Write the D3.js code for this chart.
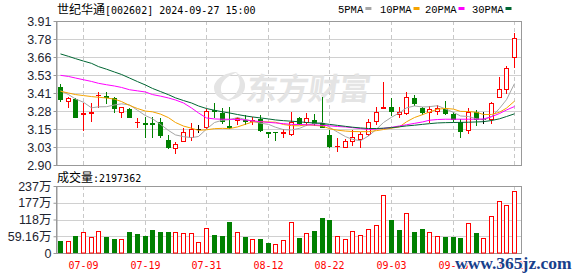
<!DOCTYPE html>
<html>
<head>
<meta charset="utf-8">
<script src="https://cdn.jsdelivr.net/npm/d3@7"></script>
<style>
  body { margin: 0; background: #fff; }
  svg { display: block; }
</style>
</head>
<body>
<div id="chart"></div>
<script>
// trading days shown (2024)
var dates = ["07-04","07-05","07-08","07-09","07-10","07-11","07-12","07-15","07-16","07-17",
  "07-18","07-19","07-22","07-23","07-24","07-25","07-26","07-29","07-30","07-31",
  "08-01","08-02","08-05","08-06","08-07","08-08","08-09","08-12","08-13","08-14",
  "08-15","08-16","08-19","08-20","08-21","08-22","08-23","08-26","08-27","08-28",
  "08-29","08-30","09-02","09-03","09-04","09-05","09-06","09-09","09-10","09-11",
  "09-12","09-13","09-18","09-19","09-20","09-23","09-24","09-25","09-26","09-27"];

var open = [3.449,3.351,3.361,3.260,3.262,3.388,3.381,3.368,3.274,3.291,
  3.199,3.192,3.192,3.204,3.075,3.021,3.070,3.099,3.152,3.164,
  3.288,3.263,3.172,3.215,3.218,3.210,3.221,3.130,3.130,3.125,
  3.117,3.232,3.204,3.216,3.197,3.110,3.030,3.028,3.068,3.080,
  3.120,3.211,3.298,3.309,3.256,3.263,3.368,3.298,3.274,3.279,
  3.291,3.256,3.204,3.145,3.270,3.221,3.221,3.375,3.431,3.655];
var high = [3.468,3.379,3.368,3.333,3.333,3.414,3.414,3.379,3.309,3.298,
  3.228,3.239,3.239,3.228,3.110,3.063,3.157,3.192,3.180,3.291,
  3.333,3.298,3.309,3.239,3.251,3.239,3.251,3.134,3.134,3.150,
  3.274,3.239,3.267,3.260,3.379,3.145,3.087,3.082,3.145,3.134,
  3.225,3.305,3.484,3.368,3.305,3.414,3.391,3.309,3.314,3.319,
  3.351,3.270,3.221,3.298,3.286,3.274,3.340,3.515,3.594,3.828];
var low = [3.351,3.309,3.235,3.145,3.211,3.309,3.333,3.274,3.239,3.235,
  3.164,3.098,3.098,3.098,3.017,2.982,3.070,3.075,3.134,3.157,
  3.239,3.192,3.160,3.188,3.188,3.188,3.140,3.098,3.075,3.098,
  3.110,3.190,3.180,3.180,3.164,3.024,3.000,3.024,3.040,3.024,
  3.110,3.190,3.298,3.251,3.240,3.256,3.319,3.256,3.204,3.260,
  3.258,3.210,3.094,3.127,3.181,3.192,3.192,3.375,3.407,3.585];
var close = [3.361,3.368,3.239,3.265,3.274,3.392,3.377,3.298,3.305,3.239,
  3.202,3.188,3.186,3.110,3.024,3.047,3.129,3.150,3.152,3.281,
  3.278,3.211,3.168,3.228,3.212,3.214,3.145,3.126,3.128,3.129,
  3.204,3.197,3.232,3.192,3.164,3.033,3.035,3.070,3.098,3.115,
  3.204,3.270,3.305,3.281,3.270,3.379,3.337,3.270,3.291,3.302,
  3.263,3.221,3.141,3.274,3.221,3.221,3.337,3.431,3.578,3.789];

// volume, in 万
var volume = [43.6,42.4,61.3,74.3,55.4,77.8,56.6,49.5,49.5,75.4,
  68.4,61.3,81.4,75.4,75.4,75.4,70.7,70.7,40.0,87.3,
  63.7,60.0,109.6,74.3,56.6,48.4,48.4,35.4,30.7,44.8,
  108.5,53.0,69.6,77.8,122.6,116.7,59.0,48.4,76.6,62.5,
  83.7,98.0,205.0,116.7,81.4,140.0,74.3,84.9,74.3,60.0,
  56.6,56.6,53.0,106.0,70.7,51.9,130.9,184.0,169.8,219.7362];

// moving averages
var ma5 = [3.421,3.394,3.363,3.340,3.301,3.308,3.309,3.321,3.329,3.322,
  3.284,3.246,3.224,3.185,3.142,3.111,3.099,3.092,3.100,3.152,
  3.198,3.214,3.218,3.233,3.219,3.207,3.193,3.185,3.165,3.148,
  3.146,3.157,3.178,3.191,3.198,3.164,3.131,3.099,3.080,3.070,
  3.104,3.151,3.198,3.235,3.266,3.301,3.314,3.307,3.309,3.316,
  3.293,3.269,3.244,3.240,3.224,3.216,3.239,3.297,3.358,3.471];
var ma10 = [3.417,3.405,3.394,3.387,3.380,3.375,3.370,3.362,3.345,3.318,
  3.296,3.278,3.273,3.257,3.232,3.198,3.173,3.158,3.143,3.147,
  3.155,3.157,3.155,3.167,3.186,3.202,3.204,3.202,3.200,3.184,
  3.176,3.175,3.182,3.178,3.173,3.155,3.144,3.138,3.135,3.134,
  3.134,3.141,3.149,3.158,3.168,3.203,3.233,3.253,3.272,3.291,
  3.297,3.292,3.276,3.275,3.270,3.254,3.254,3.270,3.299,3.348];
var ma20 = [3.529,3.521,3.510,3.498,3.486,3.473,3.463,3.454,3.444,3.428,
  3.420,3.412,3.394,3.383,3.370,3.356,3.335,3.300,3.265,3.230,
  3.223,3.221,3.221,3.219,3.216,3.210,3.204,3.199,3.195,3.190,
  3.185,3.184,3.182,3.181,3.178,3.175,3.170,3.167,3.162,3.156,
  3.149,3.152,3.157,3.164,3.174,3.182,3.192,3.202,3.214,3.219,
  3.221,3.221,3.221,3.221,3.221,3.223,3.239,3.261,3.286,3.310];
var ma30 = [3.679,3.662,3.646,3.629,3.613,3.590,3.572,3.552,3.535,3.510,
  3.485,3.461,3.437,3.415,3.393,3.371,3.352,3.335,3.314,3.296,
  3.284,3.273,3.265,3.254,3.244,3.237,3.230,3.223,3.216,3.211,
  3.207,3.203,3.198,3.195,3.191,3.185,3.178,3.171,3.165,3.160,
  3.156,3.156,3.158,3.162,3.168,3.174,3.179,3.185,3.190,3.195,
  3.197,3.198,3.199,3.200,3.202,3.204,3.212,3.224,3.240,3.259];

var priceTicks = [2.90, 3.02625, 3.1525, 3.27875, 3.405, 3.53125, 3.6575, 3.78375, 3.91];
var priceLabels = ["2.90","3.03","3.15","3.28","3.41","3.53","3.66","3.78","3.91"];
var volTicks = [0, 59.16, 118.32, 177.48, 236.64];
var volLabels = ["0","59.16万","118万","177万","237万"];
var dateTicks = ["07-09","07-19","07-31","08-12","08-22","09-03","09-13","09-27"];

var maNames = ["5PMA","10PMA","20PMA","30PMA"];
var maColors = ["#a6a6a6","#f5a300","#ff00ff","#006633"];

var W = 578, H = 276;
var pTop = 21, pBottom = 165, vTop = 186, vBottom = 253;
var left = 56, right = 522;
var red = "#ff0000", green = "#008000";
var latin = "'Liberation Sans','Noto Sans CJK SC',sans-serif";
var mono = "'DejaVu Sans Mono',monospace";
var cjk = "'Noto Sans CJK SC',sans-serif";

var svg = d3.select("#chart").append("svg")
  .attr("width", W).attr("height", H);

var x = d3.scaleBand().domain(d3.range(dates.length)).range([56, 518]);
function cx(i) { return Math.round(x(i) + x.bandwidth() / 2); }
var y = d3.scaleLinear().domain([2.90, 3.91]).range([pBottom, pTop]);
var yv = d3.scaleLinear().domain([0, 236.64]).range([vBottom, vTop]);

// grid
var grid = svg.append("g");
grid.selectAll(".hp").data(priceTicks.slice(1, -1)).enter().append("line")
  .attr("x1", left).attr("x2", right)
  .attr("y1", d => Math.round(y(d)) + 0.5).attr("y2", d => Math.round(y(d)) + 0.5)
  .attr("stroke", "#d0d0d0");
grid.selectAll(".hv").data(volTicks.slice(1, -1)).enter().append("line")
  .attr("x1", left).attr("x2", right)
  .attr("y1", d => Math.round(yv(d)) + 0.5).attr("y2", d => Math.round(yv(d)) + 0.5)
  .attr("stroke", "#d0d0d0");
var tickIdx = dateTicks.map(d => dates.indexOf(d));
[[pTop, pBottom], [vTop, vBottom]].forEach(function(r) {
  grid.selectAll(null).data(tickIdx).enter().append("line")
    .attr("x1", i => cx(i) + 0.5).attr("x2", i => cx(i) + 0.5)
    .attr("y1", r[0]).attr("y2", r[1])
    .attr("stroke", "#c8c8c8").attr("stroke-dasharray", "4,3");
});

// watermark logo
var wm = svg.append("g").attr("fill", "#e4e4e4");
wm.append("path")
  .attr("d", "M238,72 C224,72 214,80 214,88 C214,96 222,101 232,101 C224,98 220,93 221,87 C222,80 229,75 238,72 Z M226,100 C240,100 246,92 245,84 C244,78 240,74 236,73 C240,78 241,84 238,90 C235,96 231,99 226,100 Z");
wm.append("text")
  .attr("x", 246).attr("y", 100)
  .attr("font-family", cjk).attr("font-size", 31).attr("font-weight", "bold")
  .attr("transform", "skewX(-8) translate(13,0)")
  .text("东方财富");

// frames
svg.append("rect").attr("x", left + 0.5).attr("y", pTop + 0.5)
  .attr("width", right - left - 1).attr("height", pBottom - pTop)
  .attr("fill", "none").attr("stroke", "#999");
svg.append("rect").attr("x", left + 0.5).attr("y", vTop + 0.5)
  .attr("width", right - left - 1).attr("height", vBottom - vTop)
  .attr("fill", "none").attr("stroke", "#999");

// axes
var yAxis = d3.axisLeft(y).tickValues(priceTicks)
  .tickFormat((d, i) => priceLabels[i]).tickSize(3).tickSizeOuter(0).tickPadding(2);
var vAxis = d3.axisLeft(yv).tickValues(volTicks)
  .tickFormat((d, i) => volLabels[i]).tickSize(3).tickSizeOuter(0).tickPadding(2);
[[yAxis], [vAxis]].forEach(function(a) {
  var g = svg.append("g").attr("transform", "translate(" + (left + 0.5) + ",0)").call(a[0]);
  g.select(".domain").attr("stroke", "#999");
  g.selectAll(".tick line").attr("stroke", "#999");
  g.selectAll(".tick text").attr("fill", "#1e2430")
    .attr("font-family", latin).attr("font-size", 12.5);
});

// date labels
svg.append("g").selectAll("text").data(tickIdx).enter().append("text")
  .attr("x", i => cx(i) + 0.5).attr("y", 269)
  .attr("text-anchor", "middle").attr("fill", red)
  .attr("font-family", mono).attr("font-size", 10)
  .text(i => dates[i]);

// candles
function candleColor(i) {
  if (close[i] > open[i]) return red;
  if (close[i] < open[i]) return green;
  return "#000";
}
var k = svg.append("g").selectAll("g").data(d3.range(dates.length)).enter().append("g");
k.append("line")
  .attr("x1", i => cx(i) + 0.5).attr("x2", i => cx(i) + 0.5)
  .attr("y1", i => Math.round(y(high[i]))).attr("y2", i => Math.round(y(low[i])) + 1)
  .attr("stroke", candleColor);
k.each(function(i) {
  var g = d3.select(this), c = cx(i);
  var t = Math.round(y(Math.max(open[i], close[i])));
  var b = Math.round(y(Math.min(open[i], close[i])));
  var col = candleColor(i);
  if (b - t < 1) {
    g.append("line").attr("x1", c - 2).attr("x2", c + 3)
      .attr("y1", t + 0.5).attr("y2", t + 0.5).attr("stroke", col);
  } else if (close[i] > open[i]) {
    g.append("rect").attr("x", c - 1.5).attr("y", t + 0.5)
      .attr("width", 4).attr("height", b - t)
      .attr("fill", "#fff").attr("stroke", col);
  } else {
    g.append("rect").attr("x", c - 2).attr("y", t)
      .attr("width", 5).attr("height", b - t + 1).attr("fill", col);
  }
});

// moving average lines
[ma5, ma10, ma20, ma30].forEach(function(s, j) {
  svg.append("path").datum(s)
    .attr("d", d3.line().x((d, i) => cx(i) + 0.5).y(d => y(d)))
    .attr("fill", "none").attr("stroke", maColors[j]).attr("stroke-width", 1);
});

// volume bars: red when close >= previous close
function volUp(i) { return i === 0 ? close[0] >= open[0] : close[i] >= close[i - 1]; }
svg.append("g").selectAll("rect").data(d3.range(dates.length)).enter().append("rect")
  .each(function(i) {
    var r = d3.select(this), c = cx(i), t = Math.round(yv(volume[i]));
    if (volUp(i)) {
      r.attr("x", c - 1.5).attr("y", t + 0.5).attr("width", 4).attr("height", vBottom - t - 0.5)
        .attr("fill", "#fff").attr("stroke", red);
    } else {
      r.attr("x", c - 2).attr("y", t).attr("width", 5).attr("height", vBottom - t).attr("fill", green);
    }
  });

// title
var title = svg.append("text").attr("x", 57).attr("y", 14).attr("fill", "#000");
title.append("tspan").attr("font-family", cjk).attr("font-size", 12).text("世纪华通");
title.append("tspan").attr("font-family", mono).attr("font-size", 10).text("[002602] 2024-09-27 15:00");

var vt = svg.append("text").attr("x", 57).attr("y", 182).attr("fill", "#000");
vt.append("tspan").attr("font-family", cjk).attr("font-size", 12).text("成交量");
vt.append("tspan").attr("font-family", mono).attr("font-size", 10).text(":" + Math.round(volume[59] * 10000));

// legend
var legX = [338, 380, 425, 472];
var leg = svg.append("g").selectAll("g").data(maNames).enter().append("g")
  .attr("transform", (d, j) => "translate(" + legX[j] + ",0)");
leg.append("text").attr("y", 13).attr("fill", "#000")
  .attr("font-family", "'Liberation Mono',monospace").attr("font-size", 10.5)
  .text(d => d);
leg.append("rect").attr("x", (d) => d.length * 6.1 + 3).attr("y", 7)
  .attr("width", 6).attr("height", 3).attr("fill", (d, j) => maColors[j]);

// site watermark
svg.append("text").attr("x", 455).attr("y", 269)
  .attr("font-family", "'Liberation Serif',serif").attr("font-weight", "bold")
  .attr("font-size", 17.5).attr("fill", "#17408b")
  .attr("stroke", "#fff").attr("stroke-width", 2).attr("paint-order", "stroke")
  .text("www.365jz.com");
</script>
</body>
</html>
